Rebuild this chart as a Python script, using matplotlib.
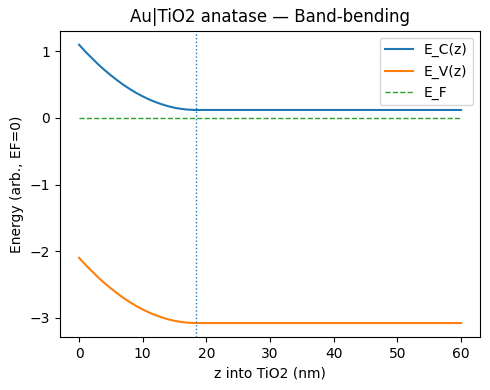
import matplotlib
matplotlib.use("Agg")
import matplotlib.pyplot as plt

# values
z = [0, 1, 2, 3, 4, 5, 6, 7, 8, 9, 10, 11, 12, 13, 14, 15, 16, 17, 18, 18.4, 25, 40, 60]
ec = [1.10, 0.995, 0.90, 0.805, 0.72, 0.64, 0.565, 0.495, 0.433, 0.375,
      0.324, 0.278, 0.239, 0.205, 0.176, 0.153, 0.137, 0.126, 0.121, 0.12,
      0.12, 0.12, 0.12]
ev = [-2.10, -2.205, -2.30, -2.395, -2.48, -2.56, -2.635, -2.705, -2.767, -2.825,
      -2.876, -2.922, -2.961, -2.995, -3.024, -3.047, -3.063, -3.074, -3.079, -3.08,
      -3.08, -3.08, -3.08]
ef = 0.0
w_depl = 18.4

fig, ax = plt.subplots(figsize=(4.9, 3.9))
ax.plot(z, ec, label="E_C(z)")
ax.plot(z, ev, label="E_V(z)")
ax.plot([z[0], z[-1]], [ef, ef], "--", lw=1, color="tab:green", label="E_F")
ax.axvline(w_depl, ls=":", lw=1)
ax.set_xlabel("z into TiO2 (nm)")
ax.set_ylabel("Energy (arb., EF=0)")
ax.set_title("Au|TiO2 anatase — Band-bending")
ax.legend()
fig.subplots_adjust(left=0.1224, right=0.98, top=0.921, bottom=0.136)
fig.savefig("out.png", dpi=100)
